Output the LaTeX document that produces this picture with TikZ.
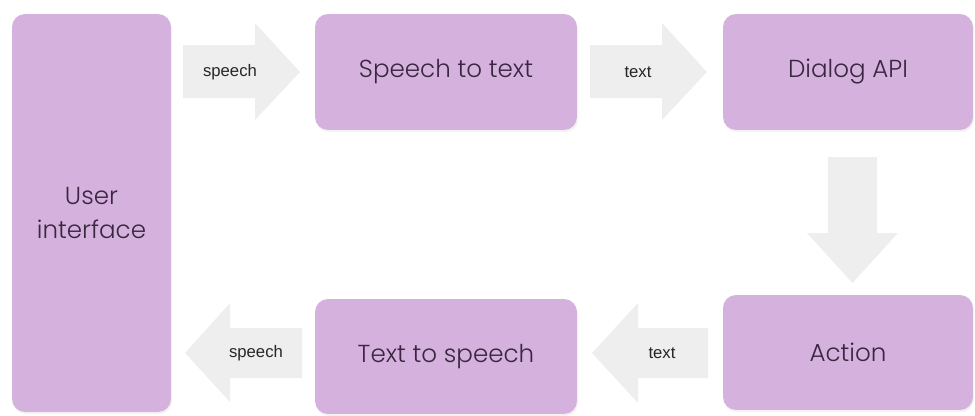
\documentclass[tikz,border=0pt]{standalone}
\usepackage{fontspec}
\setmainfont{Liberation Sans}
\newfontfamily\boxfont{Poppins Light}
\usetikzlibrary{positioning,shadows}

\definecolor{boxpurple}{RGB}{213,178,221}
\definecolor{boxtext}{RGB}{58,38,64}
\definecolor{flowgrey}{RGB}{238,238,238}

\tikzset{
  stage/.style={fill=boxpurple, rounded corners=0.26cm, inner sep=0pt,
    text=boxtext, font=\boxfont\fontsize{14}{19}\selectfont, align=center,
    drop shadow={opacity=0.10, shadow xshift=0.6pt, shadow yshift=-1.2pt}},
  flowlabel/.style={font=\fontsize{9.5}{11}\selectfont, text=black!85, inner sep=0pt},
  flow/.style={fill=flowgrey, draw=none}
}

\begin{document}
\begin{tikzpicture}[x=0.02cm, y=-0.02cm]
    \useasboundingbox (0,0) rectangle (975,416);

    % boxes
    \node[stage, minimum width=3.18cm, minimum height=7.96cm] (ui) at (91.5,213) {User\\interface};
    \node[stage, minimum width=5.24cm, minimum height=2.32cm] (stt) at (446,72) {Speech to text};
    \node[stage, minimum width=5.0cm, minimum height=2.32cm] (dialog) at (848,72) {Dialog API};
    \node[stage, minimum width=5.0cm, minimum height=2.3cm] (action) at (848,352.5) {Action};
    \node[stage, minimum width=5.24cm, minimum height=2.3cm] (tts) at (446,356.5) {Text to speech};

    % flow arrows
    \fill[flow] (183,45) -- (255,45) -- (255,23) -- (300,72) -- (255,120) -- (255,98) -- (183,98) -- cycle;
    \fill[flow] (590,45) -- (662,45) -- (662,23) -- (707,72) -- (662,120) -- (662,98) -- (590,98) -- cycle;
    \fill[flow] (828,157) -- (877,157) -- (877,233) -- (898,233) -- (852.5,283) -- (807,233) -- (828,233) -- cycle;
    \fill[flow] (708,328) -- (638,328) -- (638,303) -- (592,353) -- (638,403) -- (638,378) -- (708,378) -- cycle;
    \fill[flow] (302,328) -- (230,328) -- (230,303) -- (185,353) -- (230,402) -- (230,378) -- (302,378) -- cycle;

    % labels
    \node[flowlabel] (speechin) at (230,72) {speech};
    \node[flowlabel] (textin) at (638,72) {text};
    \node[flowlabel] (textout) at (662,353) {text};
    \node[flowlabel] (speechout) at (256,353) {speech};
\end{tikzpicture}
\end{document}
